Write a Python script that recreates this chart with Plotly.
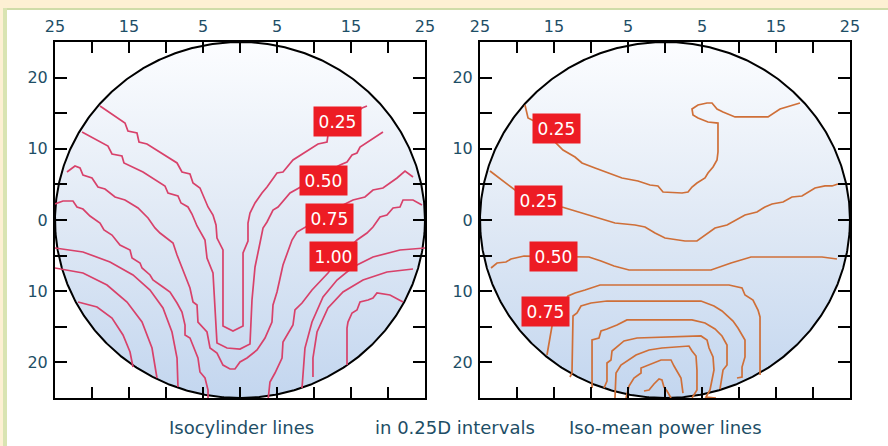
import numpy as np
import plotly.graph_objects as go

# ---------------- axis ticks / texts ----------------
tick_vals = [-25, -20, -15, -10, -5, 0, 5, 10, 15, 20, 25]
x_tick_text = ["25", "", "15", "", "5", "", "5", "", "15", "", "25"]
y_tick_text = ["", "20", "", "10", "", "0", "", "10", "", "20", ""]
title_left = "Isocylinder lines"
title_mid = "in 0.25D intervals"
title_right = "Iso-mean power lines"

# ---------------- left panel: isocylinder lines ----------------
cyl_025_x = [-18.92, -15.54, -15.14, -13.92, -13.65, -12.57, -8.51, -7.84, -6.76, -6.35, -5.41, -4.32, -3.65,
             -3.24, -3.11, -2.30, -2.30, -0.95, 0.41, 0.41, 1.08, 1.08, 1.35, 2.03, 2.97, 3.65, 5.0, 5.81,
             7.16, 10.54, 11.76, 11.89, 16.49, 17.16]
cyl_025_y = [16.01, 13.62, 12.5, 12.22, 10.96, 10.67, 8.01, 6.74, 6.46, 5.2, 4.49, 1.83, 0.70,
             -0.70, -2.53, -4.21, -14.89, -15.59, -14.89, -4.63, -2.95, -0.42, 0.98, 2.39, 3.79, 4.63, 6.6, 6.74,
             8.43, 10.67, 10.96, 11.94, 15.73, 16.01]

cyl_050_x = [-21.35, -17.84, -17.30, -15.95, -15.68, -14.46, -13.11, -10.14, -9.73, -8.38, -7.97, -7.03, -6.49,
             -5.81, -4.73, -4.46, -3.65, -3.11, -1.76, 0.0, 1.35, 1.62, 2.03, 2.70, 3.11, 3.65, 4.46, 5.14,
             6.76, 13.51, 14.46, 15.14, 15.81, 16.22, 19.32]
cyl_050_y = [12.36, 10.39, 9.27, 8.99, 8.01, 7.44, 6.74, 4.78, 3.79, 3.37, 2.39, 1.83, 0.84,
             -0.84, -2.81, -5.34, -7.44, -17.28, -17.98, -18.12, -17.42, -11.24, -6.60, -3.23, -1.12, -0.28, 1.40, 1.83,
             3.79, 7.72, 8.15, 9.13, 9.41, 10.25, 12.36]

cyl_075_x = [-23.38, -22.30, -21.62, -21.22, -20.0, -19.19, -18.24, -16.89, -15.54, -13.78, -12.43, -11.49,
             -10.81, -9.05, -8.51, -7.84, -6.76, -6.35, -5.81, -5.68, -4.46, -4.05, -3.11, -2.30, -1.35, -0.68,
             0.0, 0.95, 2.30, 3.38, 4.32, 4.46, 5.0, 5.81, 7.03, 7.70, 13.92, 15.27, 16.89, 17.97, 19.32, 21.22,
             22.30, 23.38]
cyl_075_y = [6.74, 7.58, 7.30, 6.32, 5.90, 4.63, 4.35, 3.23, 2.81, 1.69, 0.28, -1.12,
             -1.83, -3.23, -4.92, -6.74, -9.55, -11.52, -11.94, -14.33, -15.73, -17.98, -18.68, -20.37, -20.93, -20.93,
             -19.94, -19.38, -18.26, -16.57, -14.33, -11.94, -10.11, -6.32, -2.81, -1.69, 2.11, 2.81, 3.23, 4.21, 4.49, 5.90,
             6.88, 6.04]

cyl_100a_x = [-25.0, -23.92, -22.57, -22.03, -21.22, -20.27, -18.92, -18.38, -17.30, -16.22, -14.86, -14.59,
              -13.51, -13.24, -12.16, -11.76, -10.41, -9.46, -8.51, -7.84, -7.43, -7.43, -6.76, -6.08, -5.68,
              -5.41, -4.73, -4.32, -4.32]
cyl_100a_y = [2.25, 2.67, 2.67, 1.83, 1.54, 0.56, -0.42, -1.40, -2.11, -3.51, -4.21, -5.34,
              -6.04, -6.74, -7.72, -8.43, -9.41, -10.11, -11.66, -12.92, -14.75, -16.15, -16.57, -18.26, -19.38,
              -21.35, -22.19, -23.88, -25.42]
cyl_100b_x = [24.59, 23.38, 22.03, 21.62, 20.68, 19.86, 18.92, 17.97, 17.16, 15.81, 13.51, 11.89, 9.73, 8.38,
              7.43, 7.16, 5.81, 5.68, 4.73, 4.05, 3.78]
cyl_100b_y = [2.11, 2.81, 2.81, 1.83, 1.69, 0.70, 0.42, -0.98, -1.83, -2.81, -5.20, -7.44, -9.83, -11.66,
              -12.64, -14.75, -17.13, -19.38, -21.49, -22.75, -25.42]

cyl_l1_x = [-25.0, -21.22, -17.57, -14.46, -12.16, -10.41, -9.19, -8.51, -8.38]
cyl_l1_y = [-3.93, -4.49, -5.90, -7.72, -9.83, -12.36, -15.73, -19.38, -23.45]
cyl_l2_x = [-25.0, -21.22, -17.97, -15.27, -13.24, -11.89, -11.22]
cyl_l2_y = [-6.74, -7.44, -9.13, -11.52, -14.33, -17.98, -22.19]
cyl_l3_x = [-21.89, -19.32, -17.30, -15.81, -14.86, -14.46]
cyl_l3_y = [-11.52, -12.22, -13.76, -16.15, -18.54, -20.65]

cyl_r1_x = [25.0, 21.62, 17.97, 15.27, 13.11, 11.22, 9.73, 8.78, 8.38]
cyl_r1_y = [-3.93, -4.21, -5.20, -6.60, -8.43, -10.81, -14.33, -17.98, -23.60]
cyl_r2_x = [23.38, 19.86, 16.62, 13.92, 11.89, 10.41, 9.86, 9.86]
cyl_r2_y = [-6.88, -7.30, -8.43, -10.11, -12.36, -15.73, -19.38, -22.05]
cyl_r3_x = [22.03, 20.27, 18.51, 17.97, 17.30, 16.22, 15.81, 15.14, 14.59, 14.46, 14.46]
cyl_r3_y = [-11.52, -10.53, -10.25, -10.96, -11.24, -11.52, -12.64, -13.06, -14.33, -15.17, -20.37]

cyl_label_text = ["0.25", "0.50", "0.75", "1.00"]
cyl_label_x = [13.24, 11.35, 12.16, 12.7]
cyl_label_y = [13.9, 5.6, 0.28, -5.06]

# ---------------- right panel: iso-mean power lines ----------------
mp_025a_x = [-18.92, -18.51, -17.70, -14.86, -13.78, -12.16, -11.22, -9.46, -7.70, -5.81, -3.65, -2.03, -0.95,
             -0.27, 2.30, 3.11, 3.65, 4.32, 5.41, 5.81, 6.49, 7.03, 7.16, 7.16, 5.81, 4.46, 3.78, 3.65, 4.46,
             5.68, 6.35, 7.03, 7.84, 9.46, 13.92, 15.54, 18.24]
mp_025a_y = [16.15, 14.33, 13.90, 10.96, 9.83, 8.85, 8.01, 7.30, 6.60, 5.90, 5.48, 4.92, 4.78,
             3.93, 3.79, 3.93, 4.63, 5.20, 5.90, 6.60, 7.44, 8.43, 9.55, 13.62, 13.76, 14.33, 14.75, 15.59, 16.15,
             16.43, 16.43, 15.59, 15.17, 14.47, 14.47, 15.59, 16.43]

mp_025b_x = [-23.65, -21.22, -20.27, -13.92, -12.57, -10.41, -6.76, -4.05, -2.70, -1.35, 0.0, 2.70, 4.32, 6.76,
             8.38, 10.81, 12.43, 13.51, 14.46, 15.95, 17.16, 18.51, 20.27, 21.62, 22.57, 23.38]
mp_025b_y = [6.88, 4.92, 4.21, 1.83, 1.40, 0.70, -0.42, -0.70, -0.98, -1.83, -2.53, -2.95, -2.95, -1.12,
             -0.70, 0.70, 1.12, 1.83, 2.25, 2.53, 3.23, 3.37, 4.49, 4.78, 4.78, 5.06]

mp_050_x = [-23.51, -22.70, -21.49, -20.81, -19.05, -12.03, -10.27, -8.65, -6.89, -4.86, 6.22, 8.92, 11.62,
            21.22, 23.24]
mp_050_y = [-6.74, -6.04, -5.90, -5.48, -5.06, -5.20, -5.20, -5.76, -6.46, -7.02, -7.02, -6.04, -5.20,
            -5.20, -5.48]

mp_075_x = [-15.95, -15.54, -15.27, -13.11, -12.16, -10.81, -8.78, 8.65, 10.41, 10.81, 11.89, 12.57, 12.84, 12.84]
mp_075_y = [-18.96, -16.29, -14.89, -10.67, -10.25, -9.83, -9.13, -9.13, -9.55, -10.53, -11.24, -12.64, -13.62,
            -21.77]

mp_c2_x = [-12.84, -12.57, -12.43, -11.89, -11.35, -10.0, -7.84, 4.86, 6.62, 7.70, 9.19, 9.86, 10.81, 10.81,
           10.41, 10.41, 9.73]
mp_c2_y = [-22.05, -21.49, -13.48, -13.06, -12.08, -11.66, -11.38, -11.38, -12.08, -12.78, -14.19, -15.17,
           -16.85, -19.24, -20.65, -22.05, -22.19]

mp_c3_x = [-9.86, -9.86, -8.92, -8.65, -7.84, -6.49, -5.14, 3.65, 5.41, 6.76, 7.70, 8.38, 8.38, 7.84, 7.43]
mp_c3_y = [-23.60, -16.85, -16.57, -15.59, -15.31, -14.75, -14.04, -14.04, -14.47, -15.31, -16.29, -17.56,
           -20.37, -21.07, -23.74]

mp_c4_x = [-8.24, -7.84, -7.84, -7.30, -7.16, -6.49, -5.54, -3.78, 4.86, 5.68, 5.95, 6.49, 6.62, 6.35, 6.08,
           5.54, 6.89]
mp_c4_y = [-23.60, -22.61, -20.08, -19.66, -18.40, -17.84, -16.99, -16.57, -16.29, -16.85, -17.98, -19.24,
           -21.07, -22.47, -23.88, -24.86, -25.0]

mp_c5_x = [-6.76, -6.62, -5.95, -4.86, -3.92, -2.16, -0.41, 3.24, 3.65, 4.19, 4.32, 4.32, 3.65]
mp_c5_y = [-25.0, -21.49, -20.37, -19.66, -18.96, -18.26, -17.98, -17.70, -18.40, -19.10, -21.07, -23.88, -25.0]

mp_c6_x = [-5.27, -4.86, -4.19, -3.24, -3.24, -2.16, -0.54, 0.81, 1.22, 2.16, 2.43]
mp_c6_y = [-25.0, -23.31, -22.19, -21.49, -20.79, -20.37, -19.66, -19.66, -20.51, -22.19, -24.30]

mp_c7_x = [-2.84, -2.16, -1.49, -0.81, -0.41, -0.14, 0.27, 0.81]
mp_c7_y = [-24.02, -23.88, -23.03, -22.33, -22.47, -23.46, -24.02, -25.0]

mp_label_text = ["0.25", "0.25", "0.50", "0.75"]
mp_label_x = [-14.6, -17.16, -15.1, -16.2]
mp_label_y = [12.9, 2.8, -5.06, -12.9]

# ---------------- styling ----------------
FONT = "DejaVu Sans"
TEXT_COLOR = "#1d4e66"
CYL_COLOR = "#d8416a"
MP_COLOR = "#cf6f38"
LABEL_BG = "#ed1c24"
W, H = 888, 446

fig = go.Figure()

theta = np.linspace(0, 2 * np.pi, 721)
radius = 25
for xa, ya in (("x", "y"), ("x2", "y2")):
    fig.add_trace(go.Scatter(
        x=radius * np.cos(theta), y=radius * np.sin(theta), mode="lines", fill="toself",
        fillgradient=dict(type="vertical",
                          colorscale=[[0, "#c3d6ef"], [0.5, "#e0e9f5"], [1, "#fcfdff"]]),
        line=dict(color="black", width=2), xaxis=xa, yaxis=ya, hoverinfo="skip", showlegend=False))

cyl_lines = [(cyl_025_x, cyl_025_y), (cyl_050_x, cyl_050_y), (cyl_075_x, cyl_075_y),
             (cyl_100a_x, cyl_100a_y), (cyl_100b_x, cyl_100b_y),
             (cyl_l1_x, cyl_l1_y), (cyl_l2_x, cyl_l2_y), (cyl_l3_x, cyl_l3_y),
             (cyl_r1_x, cyl_r1_y), (cyl_r2_x, cyl_r2_y), (cyl_r3_x, cyl_r3_y)]
for lx, ly in cyl_lines:
    fig.add_trace(go.Scatter(x=lx, y=ly, mode="lines", line=dict(color=CYL_COLOR, width=1.7),
                             xaxis="x", yaxis="y", hoverinfo="skip", showlegend=False))

mp_lines = [(mp_025a_x, mp_025a_y), (mp_025b_x, mp_025b_y), (mp_050_x, mp_050_y), (mp_075_x, mp_075_y),
            (mp_c2_x, mp_c2_y), (mp_c3_x, mp_c3_y), (mp_c4_x, mp_c4_y), (mp_c5_x, mp_c5_y),
            (mp_c6_x, mp_c6_y), (mp_c7_x, mp_c7_y)]
for lx, ly in mp_lines:
    fig.add_trace(go.Scatter(x=lx, y=ly, mode="lines", line=dict(color=MP_COLOR, width=1.7),
                             xaxis="x2", yaxis="y2", hoverinfo="skip", showlegend=False))

annotations = []
for t, x, y in zip(cyl_label_text, cyl_label_x, cyl_label_y):
    annotations.append(dict(x=x, y=y, xref="x", yref="y", text=t, showarrow=False, bgcolor=LABEL_BG,
                            font=dict(color="white", size=17, family=FONT), width=41, height=23, borderpad=3))
for t, x, y in zip(mp_label_text, mp_label_x, mp_label_y):
    annotations.append(dict(x=x, y=y, xref="x2", yref="y2", text=t, showarrow=False, bgcolor=LABEL_BG,
                            font=dict(color="white", size=17, family=FONT), width=41, height=23, borderpad=3))

title_font = dict(color=TEXT_COLOR, size=18, family=FONT)
for txt, cx in ((title_left, 241), (title_mid, 455), (title_right, 665)):
    annotations.append(dict(x=cx / W, y=1 - 427 / H, xref="paper", yref="paper", text=txt, showarrow=False,
                            font=title_font, xanchor="center", yanchor="middle"))

def xaxis_style(domain, anchor):
    return dict(domain=domain, anchor=anchor, range=[-25, 25], side="top", tickvals=tick_vals,
                ticktext=x_tick_text, ticks="inside", ticklen=11, tickwidth=2, tickcolor="black",
                showline=True, linecolor="black", linewidth=2, mirror="ticks", showgrid=False,
                zeroline=False, tickfont=dict(size=16, color=TEXT_COLOR, family=FONT),
                ticklabelstandoff=2, fixedrange=True, automargin=False)

def yaxis_style(domain, anchor):
    return dict(domain=domain, anchor=anchor, range=[-25, 25], tickvals=tick_vals,
                ticktext=y_tick_text, ticks="inside", ticklen=12, tickwidth=2, tickcolor="black",
                showline=True, linecolor="black", linewidth=2, mirror="ticks", showgrid=False,
                zeroline=False, tickfont=dict(size=16, color=TEXT_COLOR, family=FONT),
                ticklabelstandoff=2, fixedrange=True, automargin=False)

ydom = [1 - 398 / H, 1 - 42 / H]
shapes = [
    dict(type="rect", xref="paper", yref="paper", x0=0, x1=1, y0=1 - 8 / H, y1=1,
         fillcolor="#fdf0d3", line=dict(width=0), layer="below"),
    dict(type="rect", xref="paper", yref="paper", x0=0, x1=3 / W, y0=0, y1=1,
         fillcolor="#fdf0d3", line=dict(width=0), layer="below"),
    dict(type="rect", xref="paper", yref="paper", x0=3 / W, x1=1, y0=1 - 10 / H, y1=1 - 8 / H,
         fillcolor="#cfdca8", line=dict(width=0), layer="below"),
    dict(type="rect", xref="paper", yref="paper", x0=3 / W, x1=7 / W, y0=0, y1=1 - 8 / H,
         fillcolor="#d9e4b2", line=dict(width=0), layer="below"),
]

fig.update_layout(
    width=W, height=H, margin=dict(l=0, r=0, t=0, b=0, autoexpand=False),
    paper_bgcolor="white", plot_bgcolor="rgba(0,0,0,0)",
    xaxis=xaxis_style([55 / W, 425 / W], "y"),
    yaxis=yaxis_style(ydom, "x"),
    xaxis2=xaxis_style([480 / W, 850 / W], "y2"),
    yaxis2=yaxis_style(ydom, "x2"),
    annotations=annotations, shapes=shapes, showlegend=False,
)

fig.write_html("out.html", config={"displayModeBar": False},
               post_script="document.body.style.margin='0';document.body.style.overflow='hidden';")
